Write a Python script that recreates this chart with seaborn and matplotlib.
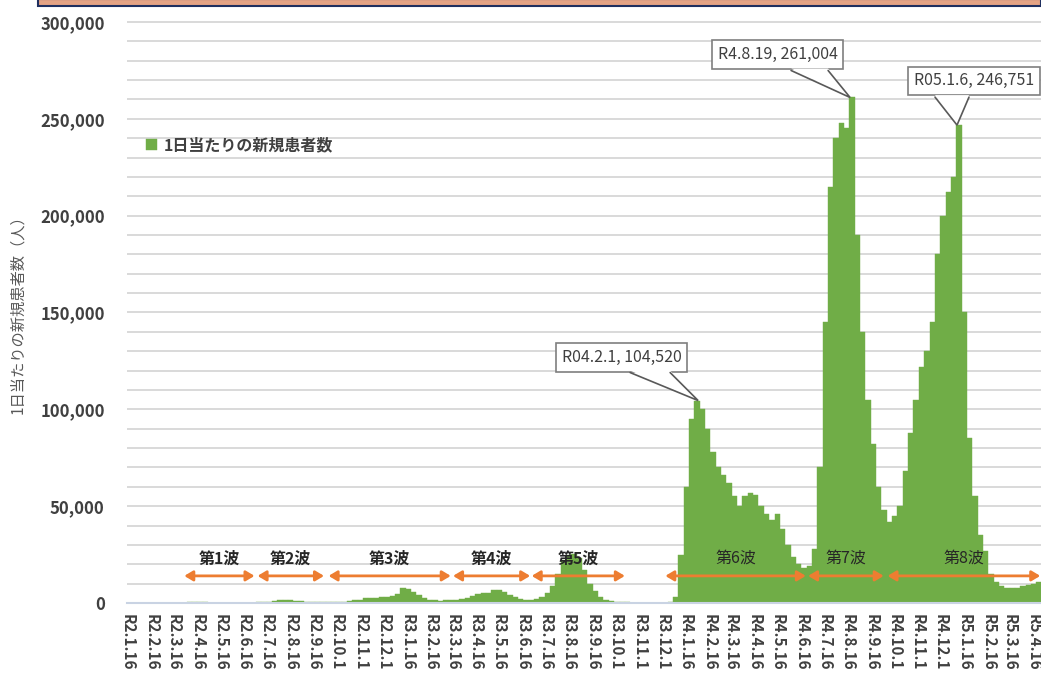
import numpy as np
import pandas as pd
import matplotlib
matplotlib.use('Agg')
import matplotlib.pyplot as plt
import matplotlib.transforms as mtransforms
import seaborn as sns
from matplotlib.patches import Rectangle, Polygon
from matplotlib.ticker import FuncFormatter

# weekly new cases (week starting on each date from 2020-01-16)
START = pd.Timestamp('2020-01-16')
weekly_cases = [
    1, 1, 5, 3, 12, 20, 25, 45, 55, 70,
    220, 450, 650, 550, 400, 250, 110, 60, 40, 50,
    50, 60, 80, 130, 260, 420, 700, 1000, 1500, 1550,
    1300, 1000, 800, 650, 600, 550, 600, 600, 650, 650,
    750, 1000, 1300, 1700, 2400, 2600, 2500, 3000, 3200, 3800,
    4500, 7900, 7000, 5500, 4000, 2600, 1700, 1300, 1100, 1300,
    1500, 1700, 2100, 2800, 3400, 4500, 5300, 5200, 6700, 6500,
    5500, 4000, 3000, 2100, 1800, 1800, 2100, 3000, 5000, 9000,
    15000, 22000, 25000, 25500, 23000, 17000, 10000, 6000, 3000, 1500,
    800, 500, 350, 280, 220, 200, 170, 130, 150, 150,
    200, 300, 3000, 25000, 60000, 95000, 104520, 100000, 90000, 78000,
    70000, 66000, 62000, 55000, 50000, 55000, 57000, 56000, 50000, 46000,
    43000, 46000, 38000, 30000, 24000, 20000, 18000, 19000, 28000, 70000,
    145000, 215000, 240000, 248000, 245000, 261004, 190000, 140000, 105000, 82000,
    60000, 48000, 42000, 45000, 50000, 68000, 88000, 105000, 122000, 130000,
    145000, 180000, 200000, 212000, 220000, 246751, 150000, 85000, 55000, 35000,
    27000, 15000, 11000, 9000, 8000, 7500, 8000, 9000, 9500, 10000,
    11000,
]

tick_labels = [
    'R2.1.16', 'R2.2.16', 'R2.3.16', 'R2.4.16', 'R2.5.16', 'R2.6.16', 'R2.7.16', 'R2.8.16',
    'R2.9.16', 'R2.10.1', 'R2.11.1', 'R2.12.1', 'R3.1.16', 'R3.2.16', 'R3.3.16', 'R3.4.16',
    'R3.5.16', 'R3.6.16', 'R3.7.16', 'R3.8.16', 'R3.9.16', 'R3.10.1', 'R3.11.1', 'R3.12.1',
    'R4.1.16', 'R4.2.16', 'R4.3.16', 'R4.4.16', 'R4.5.16', 'R4.6.16', 'R4.7.16', 'R4.8.16',
    'R4.9.16', 'R4.10.1', 'R4.11.1', 'R4.12.1', 'R5.1.16', 'R5.2.16', 'R5.3.16', 'R5.4.16',
]
tick_dates = pd.date_range('2020-01-16', periods=len(tick_labels), freq=pd.DateOffset(months=1))

waves = ['第1波', '第2波', '第3波', '第4波', '第5波', '第6波', '第7波', '第8波']
wave_start = ['2020-03-30', '2020-07-04', '2020-10-05', '2021-03-17',
              '2021-06-28', '2021-12-20', '2022-06-25', '2022-10-07']
wave_end = ['2020-06-30', '2020-09-29', '2021-03-14', '2021-06-26',
            '2021-10-28', '2022-06-22', '2022-10-02', '2023-04-25']

peak_dates = ['2022-02-01', '2022-08-19', '2023-01-06']
peak_values = [104520, 261004, 246751]
peak_labels = ['R04.2.1, 104,520', 'R4.8.19, 261,004', 'R05.1.6, 246,751']

GREEN = '#70AD47'
ORANGE = '#ED7D31'


def pos(d):
    # position on the bar axis (one unit per week, bar i centred on i)
    return (pd.Timestamp(d) - START).total_seconds() / 86400 / 7 - 0.5


sns.set_style('white')
plt.rcParams['font.family'] = ['Noto Sans CJK JP', 'DejaVu Sans']

fig = plt.figure(figsize=(10.41, 6.75), dpi=100)
ax = fig.add_axes([127 / 1041, 72 / 675, 1 - 127 / 1041, (603 - 18.1) / 675])

df = pd.DataFrame({'week': range(len(weekly_cases)), 'cases': weekly_cases})
sns.barplot(data=df, x='week', y='cases', color=GREEN, saturation=1, width=1.0,
            errorbar=None, linewidth=0.3, edgecolor=GREEN,
            label='1日当たりの新規患者数', ax=ax)

ax.set_xlim(pos('2020-01-15'), pos('2023-04-26'))
ax.set_ylim(0, 302000)

ax.set_xticks([pos(d) for d in tick_dates])
ax.set_xticklabels(tick_labels, rotation=270, ha='center', va='top',
                   fontsize=11, fontweight='bold', color='#404040')
ax.set_yticks(np.arange(0, 300001, 50000))
ax.set_yticks(np.arange(0, 300001, 10000), minor=True)
ax.yaxis.set_major_formatter(FuncFormatter(lambda v, _: f'{int(v):,}'))
for t in ax.get_yticklabels():
    t.set_fontsize(12)
    t.set_fontweight('bold')
    t.set_color('#404040')
ax.tick_params(axis='y', which='both', length=0, pad=16)
ax.tick_params(axis='x', length=0, pad=8)
ax.grid(axis='y', which='both', color='#D9D9D9', lw=1.4)
ax.set_axisbelow(True)

ax.set_xlabel('')
ax.set_ylabel('1日当たりの新規患者数（人）', fontsize=11, color='#595959', labelpad=10)

for s in ['top', 'right', 'left']:
    ax.spines[s].set_visible(False)
ax.spines['bottom'].set_color('#C9D3E3')
ax.spines['bottom'].set_linewidth(1.5)

ax.legend(loc='center left', bbox_to_anchor=(0.005, 0.783), frameon=False,
          handlelength=0.7, handleheight=0.7, handletextpad=0.4,
          prop={'size': 11.5, 'weight': 'bold'}, labelcolor='#404040')

# wave periods
for i, (name, a, b) in enumerate(zip(waves, wave_start, wave_end)):
    ax.annotate('', xy=(pos(b), 14000), xytext=(pos(a), 14000),
                arrowprops=dict(arrowstyle='<|-|>,head_length=0.5,head_width=0.3',
                                color=ORANGE, lw=2, shrinkA=0, shrinkB=0),
                annotation_clip=False, zorder=4)
    ax.text((pos(a) + pos(b)) / 2, 23000, name, ha='center', va='center',
            fontsize=11.5, fontweight='bold' if i < 5 else 'normal',
            color='#262626', zorder=4)

# peak callouts: box offset (points) and pointer base (pixels, relative to the tip)
offsets = [(-55, 31), (-52, 31), (-31, 32)]
aligns = ['center', 'center', 'left']
pointer_base = [(-68, -28, 28), (-59, -22, 27), (-22, 12, 28)]
for d, v, lab, off, ha, pb in zip(peak_dates, peak_values, peak_labels,
                                  offsets, aligns, pointer_base):
    x = pos(d)
    ax.annotate(lab, xy=(x, v), xytext=off, textcoords='offset points',
                ha=ha, va='center', fontsize=11.5, color='#404040',
                bbox=dict(boxstyle='square,pad=0.35', fc='white', ec='#7F7F7F', lw=1.2),
                annotation_clip=False, zorder=6)
    tr = fig.dpi_scale_trans + mtransforms.ScaledTranslation(x, v, ax.transData)
    bl, br, dy = pb[0] / 100, pb[1] / 100, pb[2] / 100
    fill = Polygon([(bl, dy + 0.02), (0, 0), (br, dy + 0.02)], closed=True,
                   fc='white', ec='none', transform=tr, clip_on=False, zorder=7)
    ax.add_patch(fill)
    ax.plot([bl, 0, br], [dy, 0, dy], color='#595959', lw=1.2, transform=tr,
            clip_on=False, zorder=8, solid_joinstyle='miter')

# cropped title bar at the top
fig.add_artist(Rectangle((38 / 1041, 669 / 675), 1 - 38 / 1041, 7 / 675,
                         transform=fig.transFigure, fc='#E4A384', ec='#1F2F5F',
                         lw=1.5, clip_on=False))

fig.savefig('out.png', dpi=100)
